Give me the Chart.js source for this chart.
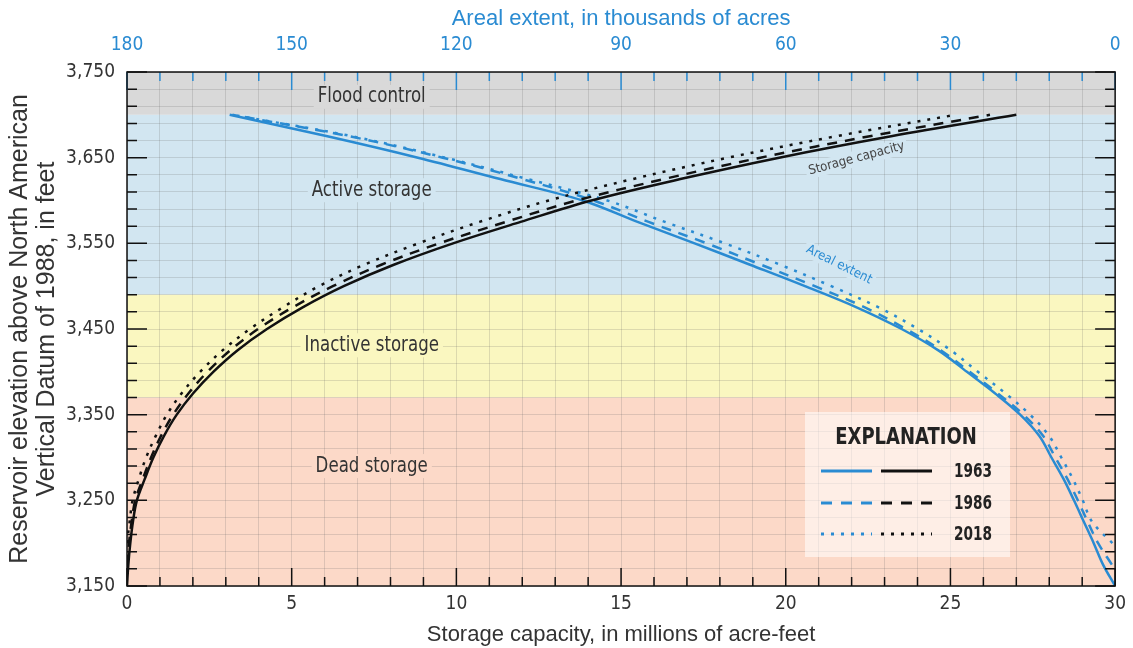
<!DOCTYPE html>
<html>
<head>
<meta charset="utf-8">
<script src="https://cdn.jsdelivr.net/npm/chart.js@4.4.1/dist/chart.umd.min.js"></script>
<style>
  html, body { margin: 0; padding: 0; background: #fff; }
  #wrap { width: 1133px; height: 648px; }
</style>
</head>
<body>
<div id="wrap"><canvas id="chart" width="1133" height="648"></canvas></div>
<script>
// Reservoir elevation (ft) at which capacity and area were read
const elevations = [3150, 3175, 3200, 3225, 3250, 3275, 3300, 3325, 3350, 3375, 3400, 3425,
  3450, 3475, 3500, 3525, 3550, 3575, 3600, 3625, 3650, 3675, 3700];

// Storage capacity, millions of acre-feet
const capacity1963 = [0, 0.04, 0.1, 0.18, 0.3, 0.54, 0.8, 1.12, 1.51, 2.01, 2.62, 3.35,
  4.25, 5.32, 6.58, 8.1, 9.9, 11.95, 14.1, 16.8, 19.8, 23.2, 27.0];
const capacity1986 = [null, 0, 0.06, 0.14, 0.25, 0.48, 0.73, 1.03, 1.4, 1.87, 2.44, 3.13,
  3.98, 5.02, 6.25, 7.72, 9.48, 11.5, 13.65, 16.3, 19.23, 22.55, 26.2];
const capacity2018 = [null, null, 0, 0.08, 0.17, 0.36, 0.58, 0.87, 1.21, 1.66, 2.22, 2.9,
  3.73, 4.72, 5.83, 7.2, 8.85, 10.7, 12.8, 15.35, 18.25, 21.53, 25.15];

// Areal extent, thousands of acres
const area1963 = [0, 2.2, 3.9, 5.7, 7.5, 9.4, 11.6, 13.8, 17.3, 21.9, 27.0, 32.2,
  38.9, 47.0, 56.5, 66.5, 76.6, 87.0, 97.0, 112.0, 127.0, 143.5, 161.3];
const area1986 = [null, 0.6, 3.1, 5.0, 6.8, 8.7, 10.9, 13.1, 16.7, 21.4, 26.5, 31.7,
  38.1, 45.5, 54.7, 64.5, 74.4, 85.0, 95.0, 108.0, 122.5, 139.5, 160.8];
const area2018 = [null, null, 0.5, 4.2, 5.9, 7.7, 9.8, 12.0, 15.5, 20.0, 25.0, 29.9,
  35.9, 43.0, 51.7, 61.0, 71.1, 82.0, 92.5, 107.0, 122.0, 139.0, 160.8];

const years = ['1963', '1986', '2018'];

// Storage zones (top elevation, bottom elevation)
const zoneNames = ['Flood control', 'Active storage', 'Inactive storage', 'Dead storage'];
const zoneTops = [3750, 3700, 3490, 3370];
const zoneBottoms = [3700, 3490, 3370, 3150];
const zoneColors = ['#d9d9d9', '#d2e6f1', '#faf7c0', '#fcd9c8'];
const zoneLabelY = [3721, 3612, 3431, 3290];

const BLUE = '#2a8bd2';
const BLACK = '#111111';
const TEXT = '#333333';
const NARROW = "'Liberation Sans Narrow', 'DejaVu Sans Condensed', sans-serif";
const REGULAR = "'Liberation Sans', Arial, sans-serif";
const dashes = [[], [10, 8], [3, 7]];

function points(xs) {
  return elevations.map((e, i) => xs[i] == null ? null : { x: xs[i], y: e }).filter(p => p);
}

function series(label, xs, axis, color, dash) {
  return {
    label: label,
    data: points(xs),
    xAxisID: axis,
    yAxisID: 'y',
    showLine: true,
    borderColor: color,
    borderWidth: 2.5,
    borderDash: dash,
    pointRadius: 0,
    tension: 0.35,
    fill: false
  };
}

// text squeezed a little sideways, to look like the condensed face of the original
function narrowText(ctx, text, x, y, font, color, sx) {
  ctx.save();
  ctx.font = font;
  ctx.translate(x, y);
  ctx.scale(sx, 1);
  ctx.fillStyle = color;
  ctx.fillText(text, 0, 0);
  ctx.restore();
}

// background zones, labels, inward ticks, frame and explanation box
const decorPlugin = {
  id: 'decor',
  beforeDraw(chart) {
    const { ctx, chartArea: a, scales: { y } } = chart;
    ctx.save();
    zoneTops.forEach((top, i) => {
      const y1 = y.getPixelForValue(top);
      const y2 = y.getPixelForValue(zoneBottoms[i]);
      ctx.fillStyle = zoneColors[i];
      ctx.fillRect(a.left, y1, a.right - a.left, y2 - y1);
    });
    ctx.restore();
  },
  beforeDatasetsDraw(chart) {
    const { ctx, scales: { x, y } } = chart;
    ctx.save();
    ctx.textAlign = 'center';
    ctx.textBaseline = 'middle';
    const zoneFont = '21px ' + NARROW;
    ctx.font = zoneFont;
    zoneNames.forEach((name, i) => {
      const px = x.getPixelForValue(7.43);
      const py = y.getPixelForValue(zoneLabelY[i]);
      const w = ctx.measureText(name).width * 0.88;
      ctx.fillStyle = zoneColors[i];
      ctx.fillRect(px - w / 2 - 4, py - 12, w + 8, 24);
      narrowText(ctx, name, px, py, zoneFont, TEXT, 0.88);
    });

    // curve labels
    const tags = [
      { text: 'Storage capacity', x: 22.15, y: 3649, angle: -15, color: '#444' },
      { text: 'Areal extent', x: 21.62, y: 3525, angle: 26.5, color: BLUE }
    ];
    ctx.font = '13px ' + NARROW;
    tags.forEach(t => {
      ctx.save();
      ctx.translate(x.getPixelForValue(t.x), y.getPixelForValue(t.y));
      ctx.rotate(t.angle * Math.PI / 180);
      const w = ctx.measureText(t.text).width;
      ctx.fillStyle = zoneColors[1];
      ctx.fillRect(-w / 2 - 3, -8, w + 6, 16);
      ctx.fillStyle = t.color;
      ctx.fillText(t.text, 0, 0);
      ctx.restore();
    });
    ctx.restore();
  },
  afterDatasetsDraw(chart) {
    const { ctx, chartArea: a, scales: { x, x2, y } } = chart;
    ctx.save();
    ctx.lineWidth = 1.5;
    ctx.strokeStyle = BLACK;
    ctx.beginPath();
    for (let v = 0; v <= 30; v++) {
      const px = x.getPixelForValue(v);
      const len = v % 5 === 0 ? 18 : 9;
      ctx.moveTo(px, a.bottom);
      ctx.lineTo(px, a.bottom - len);
    }
    for (let v = 3150; v <= 3750; v += 20) {
      const py = y.getPixelForValue(v);
      const len = (v - 3150) % 100 === 0 ? 20 : 10;
      ctx.moveTo(a.left, py);
      ctx.lineTo(a.left + len, py);
      ctx.moveTo(a.right, py);
      ctx.lineTo(a.right - len, py);
    }
    ctx.stroke();

    ctx.strokeStyle = BLUE;
    ctx.beginPath();
    for (let v = 0; v <= 180; v += 6) {
      const px = x2.getPixelForValue(v);
      const len = v % 30 === 0 ? 18 : 9;
      ctx.moveTo(px, a.top);
      ctx.lineTo(px, a.top + len);
    }
    ctx.stroke();

    ctx.strokeStyle = BLACK;
    ctx.lineWidth = 1.5;
    ctx.strokeRect(a.left, a.top, a.right - a.left, a.bottom - a.top);
    ctx.restore();
  },
  afterDraw(chart) {
    const { ctx } = chart;
    ctx.save();
    ctx.fillStyle = 'rgba(255,255,255,0.55)';
    ctx.fillRect(805, 412, 205, 145);
    ctx.textAlign = 'center';
    ctx.textBaseline = 'middle';
    narrowText(ctx, 'EXPLANATION', 906, 438, 'bold 23px ' + NARROW, '#222', 0.87);
    const rows = [471, 503, 534];
    ctx.textAlign = 'left';
    years.forEach((yr, i) => {
      ctx.lineWidth = 3;
      ctx.setLineDash(i === 0 ? [] : (i === 1 ? [11, 9] : [3, 7]));
      ctx.strokeStyle = BLUE;
      ctx.beginPath();
      ctx.moveTo(821, rows[i]);
      ctx.lineTo(872, rows[i]);
      ctx.stroke();
      ctx.strokeStyle = BLACK;
      ctx.beginPath();
      ctx.moveTo(881, rows[i]);
      ctx.lineTo(932, rows[i]);
      ctx.stroke();
      ctx.setLineDash([]);
      narrowText(ctx, yr, 954, rows[i] + 1, 'bold 19px ' + NARROW, '#222', 0.8);
    });
    ctx.restore();
  }
};

const gridColor = 'rgba(100,100,100,0.2)';

new Chart(document.getElementById('chart'), {
  type: 'scatter',
  data: {
    datasets: [
      series('Storage capacity 1963', capacity1963, 'x', BLACK, dashes[0]),
      series('Storage capacity 1986', capacity1986, 'x', BLACK, dashes[1]),
      series('Storage capacity 2018', capacity2018, 'x', BLACK, dashes[2]),
      series('Areal extent 1963', area1963, 'x2', BLUE, dashes[0]),
      series('Areal extent 1986', area1986, 'x2', BLUE, dashes[1]),
      series('Areal extent 2018', area2018, 'x2', BLUE, dashes[2])
    ]
  },
  options: {
    responsive: false,
    animation: false,
    devicePixelRatio: 1,
    layout: { padding: { left: 0, right: 10, top: 0, bottom: 0 } },
    plugins: { legend: { display: false }, tooltip: { enabled: false } },
    scales: {
      x: {
        type: 'linear',
        position: 'bottom',
        min: 0,
        max: 30,
        border: { display: false },
        grid: { color: gridColor, drawTicks: false },
        ticks: {
          stepSize: 1,
          autoSkip: false,
          maxRotation: 0,
          padding: 7,
          color: TEXT,
          font: { size: 19, family: NARROW },
          callback: v => v % 5 === 0 ? String(v) : ''
        },
        title: {
          display: true,
          text: 'Storage capacity, in millions of acre-feet',
          color: TEXT,
          font: { size: 22, family: REGULAR },
          padding: { top: 0, bottom: 0 }
        },
        afterFit: s => { s.height = 62; }
      },
      x2: {
        type: 'linear',
        axis: 'x',
        position: 'top',
        reverse: true,
        min: 0,
        max: 180,
        border: { display: false },
        grid: { display: false },
        ticks: {
          stepSize: 30,
          maxRotation: 0,
          padding: 8,
          color: BLUE,
          font: { size: 19, family: NARROW }
        },
        title: {
          display: true,
          text: 'Areal extent, in thousands of acres',
          color: BLUE,
          font: { size: 22, family: REGULAR },
          padding: { top: 6, bottom: 0 }
        },
        afterFit: s => { s.height = 72; }
      },
      y: {
        type: 'linear',
        min: 3150,
        max: 3750,
        border: { display: false },
        grid: { color: gridColor, drawTicks: false },
        ticks: {
          stepSize: 20,
          autoSkip: false,
          padding: 12,
          color: TEXT,
          font: { size: 19, family: NARROW },
          callback: v => (v - 3150) % 100 === 0 ? v.toLocaleString('en-US') : ''
        },
        title: {
          display: true,
          text: ['Reservoir elevation above North American', 'Vertical Datum of 1988, in feet'],
          color: TEXT,
          font: { size: 25, family: REGULAR, lineHeight: 1.1 },
          padding: { top: 6, bottom: 0 }
        },
        afterFit: s => { s.width = 127; }
      }
    }
  },
  plugins: [decorPlugin]
});
</script>
</body>
</html>
